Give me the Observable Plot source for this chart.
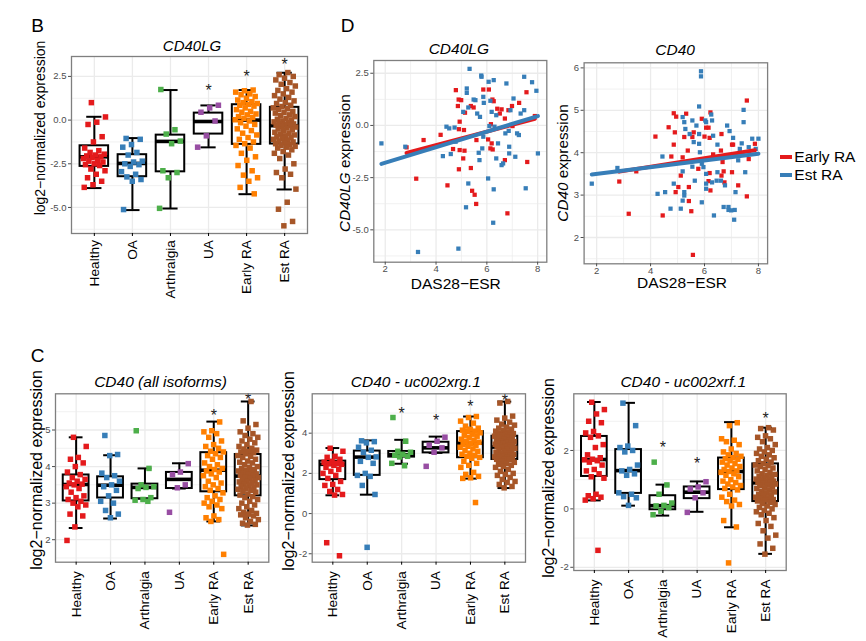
<!DOCTYPE html>
<html><head><meta charset="utf-8">
<script src="https://cdn.jsdelivr.net/npm/d3@7"></script>
<script src="https://cdn.jsdelivr.net/npm/@observablehq/plot@0.6"></script>
<style>
body{margin:0;background:#fff;}
#root{position:relative;width:866px;height:641px;overflow:hidden;font-family:"Liberation Sans",Arial,Helvetica,sans-serif;background:#fff;}
.lab{position:absolute;white-space:nowrap;transform:translate(-50%,-50%);line-height:1;color:#000;}
.rot{transform:translate(-50%,-50%) rotate(-90deg);}
.pl{position:absolute;}
</style></head><body><div id="root"></div>
<script>
// ---------- categories & colours ----------
const categories = ["Healthy","OA","Arthralgia","UA","Early RA","Est RA"];
const groupColors = ["#E41A1C","#377EB8","#4DAF4A","#984EA3","#FF7F00","#A65628"];
const seriesNames = ["Early RA","Est RA"];
const seriesColors = ["#E41A1C","#377EB8"];

// ---------- Panel B : CD40LG ----------
const cd40lgHealthy = [1.0,0.18,-0.12,-0.25,-0.95,-1.25,-1.6,-1.75,-1.85,-1.95,-2.0,-2.05,-2.1,-2.15,-2.2,-2.3,-2.35,-2.4,-2.5,-2.55,-2.6,-2.8,-2.9,-3.1,-3.3,-3.5,-3.7,-3.85];
const cd40lgOA = [-1.05,-1.1,-1.4,-1.55,-1.85,-2.0,-2.35,-2.4,-2.5,-2.55,-2.65,-2.95,-3.1,-3.25,-3.4,-3.5,-5.12];
const cd40lgArthralgia = [1.75,-0.55,-0.8,-1.2,-1.35,-2.9,-3.0,-3.3,-5.05];
const cd40lgUA = [0.85,0.7,0.45,-0.05,-0.9,-1.55];
const cd40lgEarly = [1.72,1.68,1.6,1.5,1.45,1.35,1.25,1.15,1.05,1.0,0.95,0.9,0.85,0.8,0.7,0.6,0.5,0.45,0.35,0.3,0.2,0.15,0.1,0.02,-0.05,-0.15,-0.25,-0.35,-0.5,-0.6,-0.75,-0.85,-1.0,-1.1,-1.25,-1.35,-1.45,-1.6,-1.9,-2.1,-2.3,-2.6,-2.9,-3.15,-3.3,-3.5,-3.85,-4.22];
const cd40lgEst = [2.72,2.6,2.5,2.4,2.3,2.15,2.05,1.95,1.8,1.7,1.6,1.5,1.4,1.3,1.2,1.1,1.0,0.95,0.85,0.78,0.7,0.65,0.6,0.5,0.45,0.4,0.3,0.25,0.2,0.1,0.05,0.0,-0.05,-0.1,-0.15,-0.2,-0.22,-0.25,-0.28,-0.3,-0.35,-0.4,-0.45,-0.5,-0.55,-0.6,-0.7,-0.75,-0.8,-0.85,-0.9,-0.95,-1.0,-1.05,-1.1,-1.15,-1.2,-1.25,-1.3,-1.35,-1.4,-1.45,-1.5,-1.55,-1.6,-1.7,-1.8,-1.9,-2.0,-2.2,-2.5,-2.8,-3.0,-3.1,-3.3,-3.95,-4.7,-5.1,-5.8,-6.05];
const cd40lgQ1 = [-2.65,-3.24,-2.96,-0.8,-1.39,-1.37];
const cd40lgMedian = [-2.1,-2.48,-1.22,-0.08,0.0,-0.32];
const cd40lgQ3 = [-1.47,-1.98,-0.86,0.4,0.88,0.73];
const cd40lgLow = [-3.89,-5.15,-5.06,-1.56,-4.24,-3.97];
const cd40lgHigh = [0.19,-1.03,1.72,0.84,1.72,2.71];
const cd40lgStars = [null,null,null,1.83,2.63,3.34];
const cd40lgTicks = [-5,-2.5,0,2.5];

// ---------- Panel C1 : CD40 (all isoforms) ----------
const cd40Healthy = [4.8,4.55,4.25,4.2,4.1,4.0,3.85,3.78,3.7,3.65,3.6,3.55,3.52,3.5,3.45,3.4,3.3,3.2,3.15,3.1,3.05,3.0,2.95,2.9,2.7,2.65,2.35,1.98];
const cd40OA = [4.85,4.33,4.3,3.82,3.75,3.7,3.6,3.5,3.45,3.35,3.2,3.05,3.0,2.8,2.7,2.6];
const cd40Arthralgia = [4.98,3.95,3.5,3.45,3.43,3.4,3.15,3.1,3.08,3.05];
const cd40UA = [4.08,3.85,3.78,3.5,3.42,2.75];
const cd40Early = [5.22,4.98,4.95,4.9,4.8,4.7,4.6,4.55,4.5,4.42,4.4,4.35,4.3,4.25,4.2,4.1,4.05,4.0,3.95,3.92,3.88,3.85,3.8,3.75,3.7,3.6,3.55,3.5,3.45,3.4,3.35,3.28,3.2,3.15,3.1,3.05,3.0,2.95,2.9,2.85,2.65,2.6,2.55,2.5,1.6];
const cd40Est = [5.78,5.25,5.15,5.05,4.95,4.9,4.85,4.8,4.75,4.7,4.65,4.6,4.55,4.5,4.48,4.45,4.42,4.4,4.38,4.35,4.3,4.28,4.25,4.2,4.15,4.12,4.1,4.05,4.0,3.98,3.95,3.92,3.9,3.88,3.85,3.82,3.8,3.78,3.76,3.75,3.72,3.7,3.68,3.65,3.62,3.6,3.58,3.55,3.52,3.5,3.48,3.45,3.42,3.4,3.38,3.35,3.32,3.3,3.25,3.22,3.18,3.15,3.1,3.05,3.0,2.95,2.9,2.85,2.8,2.75,2.72,2.7,2.68,2.65,2.6,2.55,2.5,2.45,2.42,2.4];
const cd40Q1 = [3.06,3.14,3.12,3.4,3.31,3.2];
const cd40Median = [3.51,3.49,3.43,3.65,3.9,3.74];
const cd40Q3 = [3.77,3.72,3.52,3.84,4.38,4.33];
const cd40Low = [2.32,2.58,3.12,3.4,2.5,2.39];
const cd40High = [4.8,4.31,3.95,4.09,5.23,5.78];
const cd40Stars = [null,null,null,null,5.48,5.9];
const cd40Ticks = [2,3,4,5];

// ---------- Panel C2 : CD40 - uc002xrg.1 ----------
const xrgHealthy = [3.25,3.1,2.85,2.8,2.7,2.6,2.55,2.5,2.48,2.45,2.4,2.3,2.2,2.1,2.0,1.9,1.75,1.6,1.45,1.4,1.2,1.1,0.95,0.92,-1.45,-2.1];
const xrgOA = [3.62,3.58,3.52,3.3,3.15,3.05,2.82,2.8,2.6,2.5,2.0,1.9,1.85,1.4,0.95,-1.68];
const xrgArthralgia = [4.78,3.6,3.1,3.05,2.95,2.9,2.85,2.82,2.5,2.38];
const xrgUA = [3.8,3.6,3.4,3.27,3.05,2.35];
const xrgEarly = [4.83,4.78,4.6,4.5,4.35,4.25,4.2,4.15,4.1,4.08,4.02,3.95,3.9,3.85,3.78,3.7,3.65,3.6,3.55,3.5,3.45,3.4,3.35,3.3,3.22,3.15,3.1,3.0,2.95,2.9,2.85,2.8,2.75,2.6,2.5,2.4,2.3,2.05,1.95,1.85,1.78,1.75,0.55];
const xrgEst = [5.58,5.5,4.85,4.75,4.65,4.55,4.45,4.4,4.3,4.25,4.2,4.15,4.1,4.05,4.0,3.98,3.95,3.92,3.9,3.88,3.85,3.8,3.78,3.75,3.7,3.68,3.65,3.6,3.58,3.55,3.52,3.5,3.48,3.45,3.42,3.4,3.38,3.35,3.33,3.32,3.3,3.25,3.2,3.15,3.12,3.1,3.05,3.0,2.98,2.95,2.92,2.9,2.88,2.85,2.82,2.8,2.78,2.75,2.72,2.7,2.68,2.6,2.55,2.5,2.45,2.4,2.35,2.3,2.2,2.1,2.0,1.95,1.9,1.8,1.7,1.6,1.55,1.45,1.35,1.28];
const xrgQ1 = [1.69,1.9,2.81,3.02,2.78,2.69];
const xrgMedian = [2.45,2.81,2.93,3.27,3.5,3.31];
const xrgQ3 = [2.61,3.11,3.09,3.55,4.08,3.85];
const xrgLow = [0.91,0.94,2.48,3.02,1.74,1.27];
const xrgHigh = [3.26,3.64,3.67,3.83,4.83,5.57];
const xrgStars = [null,null,5.12,4.76,5.45,5.75];
const xrgTicks = [-2,0,2,4];

// ---------- Panel C3 : CD40 - uc002xrf.1 ----------
const xrfHealthy = [3.65,3.4,3.25,3.0,2.95,2.65,2.6,2.5,2.45,2.2,2.1,1.85,1.75,1.7,1.68,1.65,1.6,1.5,1.35,1.3,1.2,1.1,1.05,0.5,0.45,0.4,0.35,0.3,-1.42];
const xrfOA = [3.62,2.85,2.15,2.1,2.0,1.95,1.5,1.35,1.3,1.2,1.15,0.55,0.5,0.42,0.38,0.12];
const xrfArthralgia = [1.6,0.82,0.5,0.2,0.12,0.1,0.05,-0.08,-0.2];
const xrfUA = [0.93,0.75,0.68,0.55,0.38,-0.12];
const xrfEarly = [2.95,2.85,2.4,2.35,2.3,2.2,2.05,1.95,1.9,1.85,1.8,1.75,1.72,1.7,1.65,1.6,1.55,1.5,1.45,1.4,1.35,1.3,1.28,1.25,1.2,1.15,1.1,1.0,0.95,0.9,0.85,0.8,0.75,0.7,0.65,0.5,0.4,0.3,0.25,0.15,0.1,-0.4,-0.62,-1.85];
const xrfEst = [2.78,2.75,2.7,2.5,2.45,2.4,2.3,2.2,2.1,2.05,2.0,1.95,1.9,1.85,1.8,1.75,1.7,1.65,1.6,1.55,1.5,1.48,1.45,1.4,1.35,1.3,1.25,1.2,1.18,1.15,1.1,1.08,1.05,1.02,1.0,0.98,0.95,0.93,0.91,0.9,0.88,0.85,0.82,0.8,0.75,0.72,0.7,0.65,0.6,0.58,0.55,0.5,0.48,0.45,0.4,0.38,0.35,0.32,0.3,0.27,0.22,0.18,0.15,0.1,0.05,0.0,-0.05,-0.1,-0.15,-0.2,-0.3,-0.4,-0.5,-0.6,-0.75,-0.9,-1.0,-1.2,-1.35,-1.55];
const xrfQ1 = [1.11,0.53,-0.03,0.35,0.66,0.25];
const xrfMedian = [1.69,1.31,0.11,0.57,1.28,0.89];
const xrfQ3 = [2.48,2.03,0.45,0.75,1.74,1.54];
const xrfLow = [0.29,0.11,-0.23,-0.1,-0.63,-1.54];
const xrfHigh = [3.66,3.63,0.83,0.94,2.97,2.78];
const xrfStars = [null,null,2.2,1.66,null,3.2];
const xrfTicks = [-2,0,2];

// ---------- Panel D : DAS28-ESR scatter [DAS28, expression] ----------
const scatterLGEarly = [[4.78,1.69],[4.86,0.93],[4.89,1.24],[4.99,1.21],[4.93,0.18],[4.90,-0.18],[5.10,-0.22],[4.18,-0.45],[3.51,-0.70],[4.67,-1.13],[5.12,-1.21],[5.07,-1.58],[4.90,-2.10],[5.37,-2.04],[3.22,-2.55],[4.45,-2.87],[5.42,-3.13],[5.52,-3.32],[5.58,-3.76],[6.81,-4.21],[5.14,0.61],[5.37,0.93],[5.48,0.86],[5.59,-0.70],[5.86,1.72],[6.08,1.72],[6.22,1.24],[6.27,1.16],[6.41,0.80],[6.58,0.77],[6.71,0.33],[6.16,0.06],[6.05,-0.67],[6.19,-0.86],[6.23,-1.15],[6.14,-1.10],[6.71,-1.66],[6.51,0.57],[6.99,0.93],[7.01,-0.03],[7.27,1.08],[7.56,1.59],[7.59,-1.75],[7.89,0.45],[6.85,0.73],[4.93,-1.18],[2.84,-1.05]];
const scatterLGEst = [[1.85,-0.86],[2.79,-1.02],[4.27,-1.47],[4.41,-0.06],[4.52,-0.14],[4.58,-1.37],[4.73,-0.10],[4.77,-0.78],[5.07,0.65],[5.21,1.77],[5.21,1.56],[5.32,2.71],[5.27,0.86],[5.27,-2.78],[5.18,-3.92],[3.29,-6.06],[4.88,-5.90],[5.48,1.24],[5.55,1.21],[5.78,2.39],[5.79,2.33],[5.86,1.37],[5.88,1.08],[5.62,0.57],[5.73,0.41],[5.68,-1.31],[5.71,-1.66],[5.82,-1.10],[5.86,-0.54],[6.07,2.09],[6.27,2.17],[6.14,1.18],[6.19,0.65],[6.10,-0.03],[6.05,-2.54],[6.27,-3.06],[6.25,-4.66],[6.37,0.49],[6.44,-0.86],[6.37,-1.58],[6.58,-1.90],[6.64,-1.82],[6.77,2.01],[6.73,-0.38],[6.86,-0.26],[6.88,-1.02],[6.88,-1.34],[6.93,0.73],[7.05,1.29],[7.12,-1.50],[7.19,-0.38],[7.33,0.57],[7.47,2.33],[7.47,0.73],[7.53,-3.01],[7.78,2.07],[7.95,1.66],[8.01,-1.34],[7.26,-0.46],[6.30,-0.06]];
const scatter40Early = [[3.19,2.56],[2.84,3.32],[3.47,3.56],[4.18,4.38],[4.67,4.60],[4.86,4.93],[4.95,4.85],[5.32,4.92],[4.90,4.48],[4.86,4.19],[4.77,3.91],[5.19,3.89],[5.12,3.46],[4.93,3.07],[4.45,2.52],[5.03,3.19],[5.38,4.05],[5.42,3.19],[5.42,2.86],[5.51,2.62],[5.57,1.59],[5.55,4.37],[5.60,4.48],[5.77,3.62],[5.90,4.80],[5.77,3.82],[6.06,4.59],[6.15,4.59],[6.19,4.35],[6.22,4.95],[6.19,3.52],[6.22,3.11],[6.32,3.96],[6.61,4.05],[6.63,4.44],[6.67,3.78],[6.71,3.56],[6.74,3.30],[7.02,4.19],[7.02,3.54],[7.06,4.19],[7.25,3.23],[7.57,5.23],[7.57,2.97],[7.64,3.85],[7.87,4.21],[6.63,3.46],[6.00,4.38],[5.25,4.37],[6.15,3.33]];
const scatter40Est = [[1.82,3.27],[2.77,3.64],[4.26,3.03],[4.44,3.91],[4.54,3.07],[4.74,2.68],[5.12,2.68],[4.86,3.27],[5.19,4.84],[5.25,4.72],[5.29,4.56],[5.19,3.56],[5.25,2.99],[5.25,3.07],[5.19,2.87],[5.45,4.44],[5.55,4.76],[5.60,4.25],[5.55,3.67],[5.64,3.34],[5.70,4.64],[5.80,5.09],[5.80,4.21],[5.87,5.92],[5.87,5.80],[5.80,4.44],[5.83,4.01],[5.90,2.83],[5.96,3.66],[6.03,4.76],[6.06,4.72],[6.06,3.27],[6.06,3.15],[6.06,3.50],[6.25,4.90],[6.28,4.76],[6.32,4.40],[6.28,3.30],[6.35,2.52],[6.45,3.34],[6.48,3.54],[6.61,3.34],[6.71,2.72],[6.76,3.23],[6.84,4.64],[6.93,4.51],[6.89,2.72],[6.89,2.65],[6.99,2.64],[7.10,2.42],[7.06,4.35],[7.12,2.65],[7.15,3.07],[7.25,3.82],[7.31,4.09],[7.38,4.22],[7.45,5.01],[7.45,4.72],[7.51,3.54],[7.64,4.13],[7.77,4.33],[8.00,4.33],[7.90,4.09],[6.48,4.19],[5.90,3.74]];
const dasTicks = [2,4,6,8];

// ---------- helpers ----------
const root = document.getElementById("root");
const FONT = '"Liberation Sans",Arial,Helvetica,sans-serif';
function label(html, x, y, size, opts = {}) {
  const d = document.createElement("div");
  d.className = "lab" + (opts.rotate ? " rot" : "");
  d.style.left = x + "px"; d.style.top = y + "px";
  d.style.fontSize = size + "px";
  if (opts.italic) d.style.fontStyle = "italic";
  d.innerHTML = html;
  root.appendChild(d);
}
function place(svg, L, T) {
  const w = document.createElement("div");
  w.className = "pl"; w.style.left = L + "px"; w.style.top = T + "px";
  w.appendChild(svg); root.appendChild(w);
}
function minorOf(ticks, dom) {
  const step = ticks[1] - ticks[0];
  const out = [];
  for (let t = ticks[0] - step / 2; t <= ticks[ticks.length - 1] + step / 2 + 1e-9; t += step) {
    if (t > dom[0] && t < dom[1] && !ticks.some(k => Math.abs(k - t) < 1e-9)) out.push(t);
  }
  return out;
}
const jitterOffset = (k) => (((k * 0.6180339887 + 0.37) % 1) - 0.5) * 0.6;
const GRID = "#ebebeb";

function boxPanel(cfg) {
  const [x0, x1, y0, y1] = cfg.frame;
  const [L, T, W, H] = cfg.svg;
  const pts = [];
  cfg.groups.forEach((vals, gi) => vals.forEach((v, k) => pts.push({i: gi + 1, v, j: jitterOffset(k + gi * 3), c: groupColors[gi]})));
  const boxes = categories.map((c, gi) => ({i: gi + 1, q1: cfg.q1[gi], med: cfg.med[gi], q3: cfg.q3[gi], lo: cfg.lo[gi], hi: cfg.hi[gi]}));
  const stars = cfg.stars.map((s, gi) => ({i: gi + 1, s})).filter(d => d.s != null);
  const idx = categories.map((c, i) => i + 1);
  const bw = 0.375, cw = 0.2;
  const svg = Plot.plot({
    width: W, height: H,
    marginLeft: x0 - L, marginRight: L + W - x1, marginTop: y0 - T, marginBottom: T + H - y1,
    x: {domain: [0.4, 6.6]},
    y: {domain: cfg.yDomain},
    style: {background: "transparent", overflow: "visible", fontFamily: FONT},
    marks: [
      Plot.ruleY(minorOf(cfg.ticks, cfg.yDomain), {stroke: GRID, strokeWidth: 0.7}),
      Plot.ruleY(cfg.ticks, {stroke: GRID, strokeWidth: 1.3}),
      Plot.ruleX(idx, {stroke: GRID, strokeWidth: 1.3}),
      Plot.ruleX(boxes, {x: "i", y1: "lo", y2: "hi", stroke: "black", strokeWidth: 2}),
      Plot.ruleY(boxes, {y: "lo", x1: d => d.i - cw, x2: d => d.i + cw, stroke: "black", strokeWidth: 2}),
      Plot.ruleY(boxes, {y: "hi", x1: d => d.i - cw, x2: d => d.i + cw, stroke: "black", strokeWidth: 2}),
      Plot.rect(boxes, {x1: d => d.i - bw, x2: d => d.i + bw, y1: "q1", y2: "q3", fill: "white", stroke: "black", strokeWidth: 2}),
      Plot.ruleY(boxes, {y: "med", x1: d => d.i - bw, x2: d => d.i + bw, stroke: "black", strokeWidth: 3.6}),
      Plot.dot(pts, {x: d => d.i + d.j, y: "v", symbol: "square", r: 3.1, fill: "c", stroke: null}),
      Plot.text(stars, {x: "i", y: "s", text: () => "*", fontSize: 16, fill: "#222", dy: 3}),
      Plot.frame({stroke: "#7f7f7f", strokeWidth: 1.3}),
      Plot.axisY({ticks: cfg.ticks, tickFormat: cfg.fmt, tickSize: 3, tickPadding: 2, fontSize: 9.5, color: "#4d4d4d", label: null}),
      Plot.axisX({ticks: idx, tickFormat: i => categories[i - 1], tickRotate: -90, tickSize: 3, tickPadding: cfg.xPad, fontSize: cfg.xFont, color: "black", label: null})
    ]
  });
  place(svg, L, T);
}

function scatterPanel(cfg) {
  const [x0, x1, y0, y1] = cfg.frame;
  const [L, T, W, H] = cfg.svg;
  const early = cfg.early.map(([x, y]) => ({x, y}));
  const est = cfg.est.map(([x, y]) => ({x, y}));
  const all = early.map(d => ({...d, c: seriesColors[0]})).concat(est.map(d => ({...d, c: seriesColors[1]})));
  const svg = Plot.plot({
    width: W, height: H,
    marginLeft: x0 - L, marginRight: L + W - x1, marginTop: y0 - T, marginBottom: T + H - y1,
    x: {domain: cfg.xDomain},
    y: {domain: cfg.yDomain},
    style: {background: "transparent", overflow: "visible", fontFamily: FONT},
    marks: [
      Plot.ruleY(minorOf(cfg.yTicks, cfg.yDomain), {stroke: GRID, strokeWidth: 0.7}),
      Plot.ruleY(cfg.yTicks, {stroke: GRID, strokeWidth: 1.3}),
      Plot.ruleX(minorOf(dasTicks, cfg.xDomain), {stroke: GRID, strokeWidth: 0.7}),
      Plot.ruleX(dasTicks, {stroke: GRID, strokeWidth: 1.3}),
      Plot.dot(all, {x: "x", y: "y", symbol: "square", r: 2.4, fill: "c", stroke: null}),
      Plot.linearRegressionY(early, {x: "x", y: "y", stroke: seriesColors[0], strokeWidth: 4, ci: 0}),
      Plot.linearRegressionY(est, {x: "x", y: "y", stroke: seriesColors[1], strokeWidth: 4, ci: 0}),
      Plot.frame({stroke: "#7f7f7f", strokeWidth: 1.3}),
      Plot.axisY({ticks: cfg.yTicks, tickFormat: cfg.fmt, tickSize: 3, tickPadding: 2, fontSize: 9.5, color: "#4d4d4d", label: null}),
      Plot.axisX({ticks: dasTicks, tickFormat: d => String(d), tickSize: 3, tickPadding: 0, fontSize: 9.5, color: "#4d4d4d", label: null})
    ]
  });
  place(svg, L, T);
}

// ---------- panels ----------
boxPanel({
  groups: [cd40lgHealthy, cd40lgOA, cd40lgArthralgia, cd40lgUA, cd40lgEarly, cd40lgEst],
  q1: cd40lgQ1, med: cd40lgMedian, q3: cd40lgQ3, lo: cd40lgLow, hi: cd40lgHigh, stars: cd40lgStars,
  ticks: cd40lgTicks, fmt: d => d.toFixed(1), yDomain: [-6.49, 3.64],
  frame: [71, 307, 56, 233], svg: [0, 0, 320, 320], xPad: 3.5, xFont: 13.7
});
boxPanel({
  groups: [cd40Healthy, cd40OA, cd40Arthralgia, cd40UA, cd40Early, cd40Est],
  q1: cd40Q1, med: cd40Median, q3: cd40Q3, lo: cd40Low, hi: cd40High, stars: cd40Stars,
  ticks: cd40Ticks, fmt: d => String(d), yDomain: [1.385, 5.99],
  frame: [55, 268.3, 393.3, 561.7], svg: [0, 370, 280, 271], xPad: 6, xFont: 13.6
});
boxPanel({
  groups: [xrgHealthy, xrgOA, xrgArthralgia, xrgUA, xrgEarly, xrgEst],
  q1: xrgQ1, med: xrgMedian, q3: xrgQ3, lo: xrgLow, hi: xrgHigh, stars: xrgStars,
  ticks: xrgTicks, fmt: d => String(d), yDomain: [-2.42, 5.96],
  frame: [311.7, 525, 393.3, 561.7], svg: [290, 370, 250, 271], xPad: 6, xFont: 13.6
});
boxPanel({
  groups: [xrfHealthy, xrfOA, xrfArthralgia, xrfUA, xrfEarly, xrfEst],
  q1: xrfQ1, med: xrfMedian, q3: xrfQ3, lo: xrfLow, hi: xrfHigh, stars: xrfStars,
  ticks: xrfTicks, fmt: d => String(d), yDomain: [-2.11, 3.94],
  frame: [573.3, 785.7, 393.3, 570], svg: [555, 370, 250, 271], xPad: 6, xFont: 13.6
});
scatterPanel({
  early: scatterLGEarly, est: scatterLGEst, yTicks: [-5, -2.5, 0, 2.5], fmt: d => d.toFixed(1),
  xDomain: [1.55, 8.36], yDomain: [-6.55, 3.11],
  frame: [373.3, 546.3, 60, 261.7], svg: [350, 40, 205, 240]
});
scatterPanel({
  early: scatter40Early, est: scatter40Est, yTicks: [2, 3, 4, 5, 6], fmt: d => String(d),
  xDomain: [1.535, 8.34], yDomain: [1.38, 6.12],
  frame: [583.6, 767.1, 62.3, 263.3], svg: [565, 40, 210, 240]
});

// ---------- texts ----------
label("B", 37.5, 25, 19);
label("D", 347.5, 25, 19);
label("C", 37.5, 355, 19);
label("CD40LG", 192, 45, 15, {italic: true});
label("log2\u2212normalized expression", 40, 128, 14, {rotate: true});
label("CD40LG", 458.8, 49, 15.5, {italic: true});
label("CD40", 675.2, 49.5, 15.5, {italic: true});
label("<i>CD40LG</i> expression", 345, 162.5, 15.3, {rotate: true});
label("<i>CD40</i> expression", 562.9, 163.3, 15.3, {rotate: true});
label("DAS28\u2212ESR", 455.8, 283.8, 15.5);
label("DAS28\u2212ESR", 682, 283.3, 15.5);
label("CD40 (all isoforms)", 160.5, 382.3, 15.5, {italic: true});
label("CD40 - uc002xrg.1", 415.8, 382, 15.5, {italic: true});
label("CD40 - uc002xrf.1", 683.3, 382, 15.5, {italic: true});
label("log2\u2212normalized expression", 36.7, 470, 16, {rotate: true});
label("log2\u2212normalized expression", 289, 470.8, 16, {rotate: true});
label("log2\u2212normalized expression", 549, 478.3, 16, {rotate: true});

// legend
seriesNames.forEach((name, k) => {
  const y = 156.7 + k * 18.3;
  const bar = document.createElement("div");
  bar.style.cssText = `position:absolute;left:779.6px;top:${y - 2}px;width:12.2px;height:4.2px;background:${seriesColors[k]};`;
  root.appendChild(bar);
  const t = document.createElement("div");
  t.style.cssText = `position:absolute;left:794.3px;top:${y}px;transform:translateY(-50%);font-size:15.5px;line-height:1;white-space:nowrap;`;
  t.textContent = name;
  root.appendChild(t);
});
</script></body></html>
